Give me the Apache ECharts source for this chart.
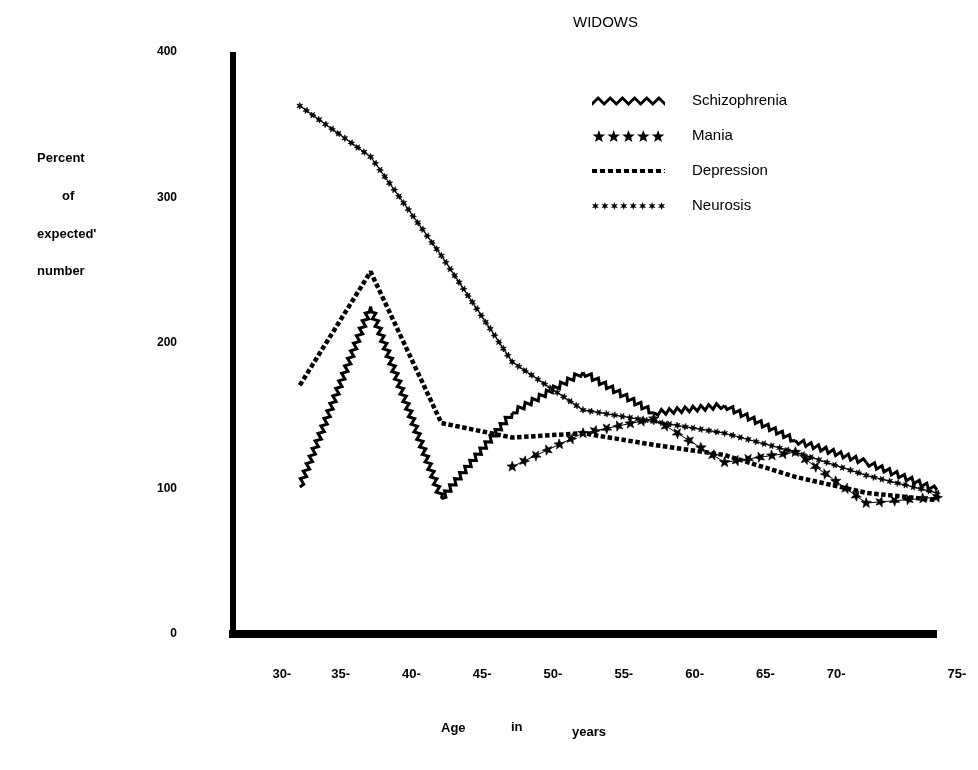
<!DOCTYPE html>
<html>
<head>
<meta charset="utf-8">
<script src="https://cdn.jsdelivr.net/npm/echarts@6/dist/echarts.min.js"></script>
<style>
html,body{margin:0;padding:0;background:#fff;}
#chart{width:978px;height:770px;}
</style>
</head>
<body>
<div id="chart"></div>
<script>
// ---- data ----
const ages = [30, 35, 40, 45, 50, 55, 60, 65, 70, 75];
const xTickLabels = ['30-', '35-', '40-', '45-', '50-', '55-', '60-', '65-', '70-', '75-'];
const yTickValues = [0, 100, 200, 300, 400];
const seriesNames = ['Schizophrenia', 'Mania', 'Depression', 'Neurosis'];
const schizophrenia = [101, 225, 93, 152, 180, 152, 157, 133, 118, 99];
const mania = [null, null, null, 115, 138, 148, 118, 125, 90, 94];
const depression = [171, 249, 145, 135, 138, 130, 123, 108, 97, 92];
const neurosis = [363, 328, 260, 187, 154, 146, 138, 125, 109, 97];
const chartTitle = 'WIDOWS';
const yNameLines = ['Percent', 'of', "expected'", 'number'];
const xNameWords = ['Age', 'in', 'years'];

// ---- helpers (drawing decoration only) ----
function pairs(vals) {
  const out = [];
  vals.forEach((v, i) => { if (v != null) out.push([ages[i], v]); });
  return out;
}
function starPts(cx, cy, ro, ri, n, rot) {
  const pts = [];
  for (let k = 0; k < n * 2; k++) {
    const r = k % 2 === 0 ? ro : ri;
    const a = (rot || -Math.PI / 2) + k * Math.PI / n;
    pts.push([cx + r * Math.cos(a), cy + r * Math.sin(a)]);
  }
  return pts;
}
function starPath(cx, cy, ro, ri, n) {
  const p = starPts(cx, cy, ro, ri, n);
  return 'M' + p.map(q => q[0].toFixed(2) + ',' + q[1].toFixed(2)).join('L') + 'Z';
}
function zigzag(p0, p1, step, amp) {
  const dx = p1[0] - p0[0], dy = p1[1] - p0[1];
  const len = Math.hypot(dx, dy) || 1;
  const n = Math.max(1, Math.round(len / step));
  const nx = -dy / len, ny = dx / len;
  const pts = [];
  for (let k = 0; k <= n; k++) {
    const t = k / n;
    const s = (k === 0 || k === n) ? 0 : (k % 2 ? amp : -amp);
    pts.push([p0[0] + dx * t + nx * s, p0[1] + dy * t + ny * s]);
  }
  return pts;
}
function alongStars(p0, p1, spacing, ro, ri, n, includeEnd) {
  const dx = p1[0] - p0[0], dy = p1[1] - p0[1];
  const len = Math.hypot(dx, dy) || 1;
  const cnt = Math.max(1, Math.round(len / spacing));
  const out = [];
  for (let k = 0; k < cnt + (includeEnd ? 1 : 0); k++) {
    const t = k / cnt;
    out.push({
      type: 'polygon',
      shape: { points: starPts(p0[0] + dx * t, p0[1] + dy * t, ro, ri, n, -Math.PI / 2 + k * 0.3) },
      style: { fill: '#000', stroke: '#000', lineWidth: 0.6 }
    });
  }
  return out;
}

// legend icon paths
function zigzagIcon() {
  const top = [], bot = [];
  for (let k = 0; k <= 12; k++) {
    const x = k * 6, y = k % 2 ? 0 : 6;
    top.push([x, y]); bot.push([x, y + 4]);
  }
  const pts = top.concat(bot.reverse());
  return 'path://M' + pts.map(p => p[0] + ',' + p[1]).join('L') + 'Z';
}
function starsIcon(count, spacing, ro, ri, n) {
  let d = '';
  for (let k = 0; k < count; k++) d += starPath(ro + k * spacing, ro, ro, ri, n);
  return 'path://' + d;
}
function dashIcon() {
  let d = '';
  for (let k = 0; k < 9; k++) { const x = k * 8; d += `M${x},0L${x + 5},0L${x + 5},4L${x},4Z`; }
  d += 'M72,0L73,0L73,1L72,1ZM72,3L73,3L73,4L72,4Z';
  return 'path://' + d;
}

const schizoPts = pairs(schizophrenia);
const maniaPts = pairs(mania);
const neuroPts = pairs(neurosis);

const font = '"Liberation Sans", Arial, sans-serif';
const chart = echarts.init(document.getElementById('chart'), null, { renderer: 'canvas' });

const option = {
  animation: false,
  backgroundColor: '#fff',
  title: {
    text: chartTitle, left: 568, top: 10,
    textStyle: { fontFamily: font, fontSize: 15, fontWeight: 'normal', color: '#000' }
  },
  legend: {
    orient: 'vertical', left: 587, top: 88,
    itemWidth: 73, itemHeight: 12, itemGap: 19,
    symbolKeepAspect: true,
    selectedMode: false,
    itemStyle: { color: '#000', borderWidth: 0 },
    textStyle: { fontFamily: font, fontSize: 15, color: '#000', padding: [0, 0, 0, 22], lineHeight: 16 },
    data: [
      { name: seriesNames[0], icon: zigzagIcon() },
      { name: seriesNames[1], icon: starsIcon(5, 14.5, 6.5, 2.7, 5) },
      { name: seriesNames[2], icon: dashIcon() },
      { name: seriesNames[3], icon: starsIcon(8, 9.5, 4, 1.7, 6) }
    ]
  },
  grid: { left: 229, right: 41, top: 52, bottom: 136, containLabel: false },
  xAxis: {
    type: 'value', min: 25, max: 75, interval: 5, offset: 4,
    splitLine: { show: false },
    axisTick: { show: false },
    axisLine: { lineStyle: { color: '#000', width: 8, cap: 'butt' } },
    axisLabel: {
      margin: 30,
      formatter: function (v) {
        const i = ages.indexOf(v);
        if (i < 0) return '';
        const s = i === 0 ? 'f' : (i === ages.length - 1 ? 'l' : 'm');
        return '{' + s + '|' + xTickLabels[i] + '}';
      },
      rich: {
        m: { fontFamily: font, fontSize: 13, fontWeight: 'bold', color: '#000', padding: [0, 60, 0, 0] },
        f: { fontFamily: font, fontSize: 13, fontWeight: 'bold', color: '#000', padding: [0, 36, 0, 0] },
        l: { fontFamily: font, fontSize: 13, fontWeight: 'bold', color: '#000', padding: [0, 0, 0, 40] }
      }
    }
  },
  yAxis: {
    type: 'value', min: yTickValues[0], max: yTickValues[yTickValues.length - 1], interval: 100, offset: -4,
    splitLine: { show: false },
    axisTick: { show: false },
    axisLine: { show: true, lineStyle: { color: '#000', width: 6, cap: 'butt' } },
    axisLabel: { margin: 56, fontFamily: font, fontSize: 12, fontWeight: 'bold', color: '#000' }
  },
  graphic: [
    { type: 'text', left: 37, top: 152, style: { text: yNameLines[0], fontFamily: font, fontSize: 13, fontWeight: 'bold', fill: '#000' } },
    { type: 'text', left: 62, top: 190, style: { text: yNameLines[1], fontFamily: font, fontSize: 13, fontWeight: 'bold', fill: '#000' } },
    { type: 'text', left: 37, top: 228, style: { text: yNameLines[2], fontFamily: font, fontSize: 13, fontWeight: 'bold', fill: '#000' } },
    { type: 'text', left: 37, top: 265, style: { text: yNameLines[3], fontFamily: font, fontSize: 13, fontWeight: 'bold', fill: '#000' } },
    { type: 'text', left: 441, top: 722, style: { text: xNameWords[0], fontFamily: font, fontSize: 13, fontWeight: 'bold', fill: '#000' } },
    { type: 'text', left: 511, top: 721, style: { text: xNameWords[1], fontFamily: font, fontSize: 13, fontWeight: 'bold', fill: '#000' } },
    { type: 'text', left: 572, top: 726, style: { text: xNameWords[2], fontFamily: font, fontSize: 13, fontWeight: 'bold', fill: '#000' } }
  ],
  series: [
    {
      name: seriesNames[0], type: 'custom', data: schizoPts, encode: { x: 0, y: 1 },
      itemStyle: { color: '#000' }, clip: false,
      renderItem: function (params, api) {
        const i = params.dataIndex;
        if (i >= schizoPts.length - 1) return null;
        const p0 = api.coord(schizoPts[i]), p1 = api.coord(schizoPts[i + 1]);
        return {
          type: 'polyline',
          shape: { points: zigzag(p0, p1, 4, 2.6) },
          style: { stroke: '#000', lineWidth: 3, fill: null, lineJoin: 'miter' }
        };
      }
    },
    {
      name: seriesNames[1], type: 'custom', data: maniaPts, encode: { x: 0, y: 1 },
      itemStyle: { color: '#000' }, clip: false,
      renderItem: function (params, api) {
        const i = params.dataIndex;
        if (i >= maniaPts.length - 1) return null;
        const p0 = api.coord(maniaPts[i]), p1 = api.coord(maniaPts[i + 1]);
        const children = [{ type: 'line', shape: { x1: p0[0], y1: p0[1], x2: p1[0], y2: p1[1] }, style: { stroke: '#000', lineWidth: 1 } }]
          .concat(alongStars(p0, p1, 13, 5.5, 2.3, 5, i === maniaPts.length - 2));
        return { type: 'group', children: children };
      }
    },
    {
      name: seriesNames[2], type: 'line', data: pairs(depression),
      symbol: 'none', itemStyle: { color: '#000' },
      lineStyle: { color: '#000', width: 4.5, type: [4.5, 2.5], cap: 'butt' }
    },
    {
      name: seriesNames[3], type: 'custom', data: neuroPts, encode: { x: 0, y: 1 },
      itemStyle: { color: '#000' }, clip: false,
      renderItem: function (params, api) {
        const i = params.dataIndex;
        if (i >= neuroPts.length - 1) return null;
        const p0 = api.coord(neuroPts[i]), p1 = api.coord(neuroPts[i + 1]);
        const children = [{ type: 'line', shape: { x1: p0[0], y1: p0[1], x2: p1[0], y2: p1[1] }, style: { stroke: '#000', lineWidth: 1.2 } }]
          .concat(alongStars(p0, p1, 8, 3.4, 1.5, 6, i === neuroPts.length - 2));
        return { type: 'group', children: children };
      }
    }
  ]
};
chart.setOption(option);
</script>
</body>
</html>
